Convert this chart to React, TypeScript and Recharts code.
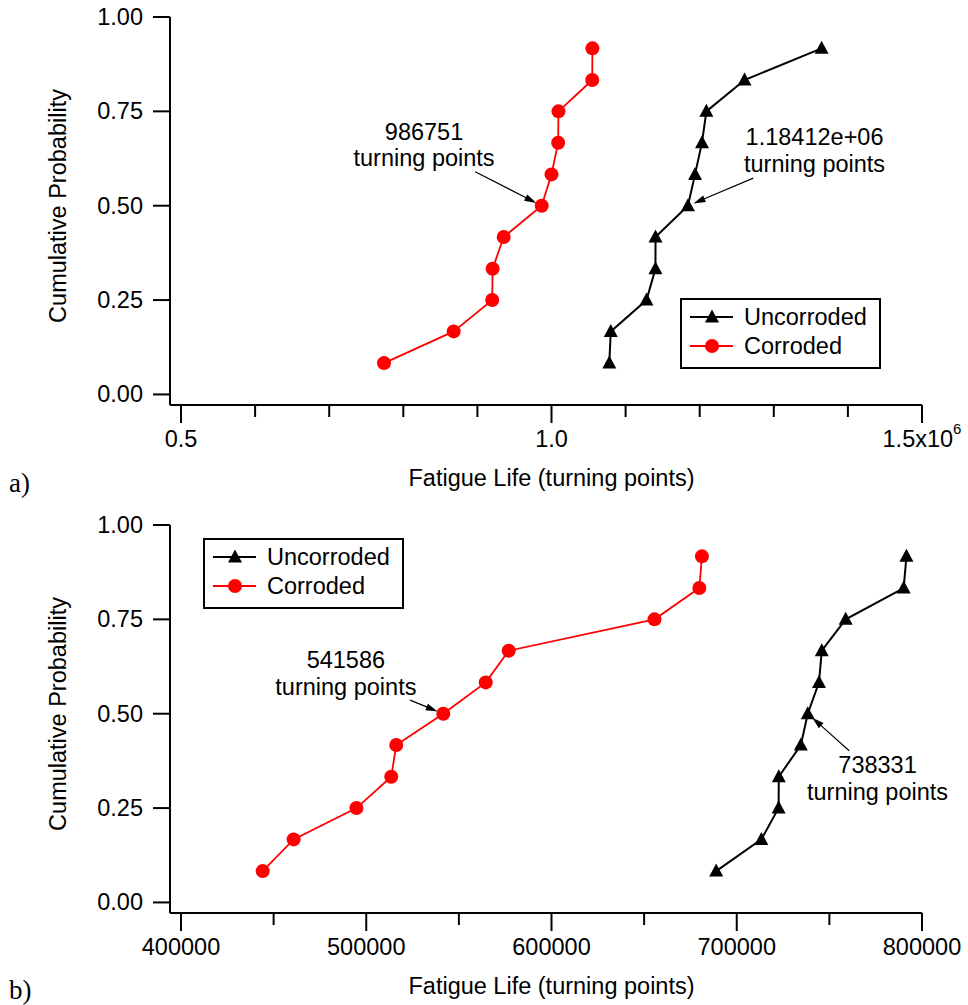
import React from "react";
import {
  LineChart,
  Line,
  XAxis,
  YAxis,
  Legend,
  Label,
  ReferenceLine,
  ReferenceDot,
} from "recharts";

// cumulative probability (median ranks) shared by every series
const probability = [0.083, 0.167, 0.25, 0.333, 0.417, 0.5, 0.583, 0.667, 0.75, 0.833, 0.917];

// panel a) fatigue life, turning points
const lifeUncorrodedA = [1078000, 1080000, 1128200, 1140300, 1140400, 1184120, 1193700, 1203100, 1209000, 1260500, 1364500];
const lifeCorrodedA = [774000, 868000, 920000, 920500, 935500, 986751, 1000000, 1009000, 1009400, 1055000, 1055200];

// panel b)
const lifeUncorrodedB = [688900, 713300, 722600, 722700, 734600, 738331, 744400, 745900, 758800, 790100, 791600];
const lifeCorrodedB = [444100, 460800, 494700, 513500, 516200, 541586, 564500, 576900, 655600, 679800, 681200];

const probTicks = [0, 0.25, 0.5, 0.75, 1];

const xTicksA = [500000, 600000, 700000, 800000, 900000, 1000000, 1100000, 1200000, 1300000, 1400000, 1500000];
const xTickLabelsA = ["0.5", "", "", "", "", "1.0", "", "", "", "", "1.5x10^6"];

const xTicksB = [400000, 450000, 500000, 550000, 600000, 650000, 700000, 750000, 800000];
const xTickLabelsB = ["400000", "", "500000", "", "600000", "", "700000", "", "800000"];

const seriesNames = ["Uncorroded", "Corroded"];

const FONT = "'Liberation Sans', Arial, Helvetica, sans-serif";
const FS = 23.5;
const RED = "#ff0000";
const BLACK = "#000000";

const toRows = (life: number[]) => life.map((v, i) => ({ life: v, p: probability[i] }));

// C-style %g with six significant digits
function formatG(v: number) {
  if (Math.abs(v) >= 1e6) {
    const [m, e] = v.toExponential(5).split("e");
    const sign = e[0];
    const digits = e.slice(1).padStart(2, "0");
    return `${m.replace(/\.?0+$/, "")}e${sign}${digits}`;
  }
  return String(v);
}

function TriangleMark({ cx, cy, fill }: { cx: number; cy: number; fill: string }) {
  return (
    <path
      d={`M${cx},${cy - 7.5} L${cx + 7},${cy + 5.5} L${cx - 7},${cy + 5.5} Z`}
      fill={fill}
    />
  );
}

const triangleDot = (props: any) => (
  <TriangleMark key={`t-${props.index}`} cx={props.cx} cy={props.cy} fill={BLACK} />
);
const circleDot = (props: any) => (
  <circle key={`c-${props.index}`} cx={props.cx} cy={props.cy} r={7} fill={RED} />
);

function makeXTick(ticks: number[], labels: string[]) {
  return (props: any) => {
    const { x, y, payload } = props;
    const label = labels[ticks.indexOf(payload.value)] || "";
    const major = label !== "";
    const [base, exp] = label.split("^");
    return (
      <g>
        <line x1={x} x2={x} y1={y} y2={y + (major ? 18 : 12)} stroke={BLACK} strokeWidth={2} />
        {major && (
          <text
            x={x}
            y={y + 34}
            textAnchor="middle"
            dominantBaseline="central"
            fontFamily={FONT}
            fontSize={FS}
            fill={BLACK}
          >
            {base}
            {exp && (
              <tspan dy={-11} fontSize={15}>
                {exp}
              </tspan>
            )}
          </text>
        )}
      </g>
    );
  };
}

function ProbTick(props: any) {
  const { x, y, payload } = props;
  return (
    <g>
      <line x1={x - 17} x2={x} y1={y} y2={y} stroke={BLACK} strokeWidth={2} />
      <text
        x={x - 27}
        y={y}
        textAnchor="end"
        dominantBaseline="central"
        fontFamily={FONT}
        fontSize={FS}
        fill={BLACK}
      >
        {Number(payload.value).toFixed(2)}
      </text>
    </g>
  );
}

function YTitle(props: any) {
  const { x, y } = props.viewBox;
  const cx = x + 58;
  const cy = y + 189;
  return (
    <text
      x={cx}
      y={cy}
      transform={`rotate(-90 ${cx} ${cy})`}
      textAnchor="middle"
      dominantBaseline="central"
      fontFamily={FONT}
      fontSize={FS}
      fill={BLACK}
    >
      Cumulative Probability
    </text>
  );
}

function XTitle(props: any) {
  const { x, y, width } = props.viewBox;
  return (
    <text
      x={x + width / 2 + 5.5}
      y={y + 73}
      textAnchor="middle"
      dominantBaseline="central"
      fontFamily={FONT}
      fontSize={FS}
      fill={BLACK}
    >
      Fatigue Life (turning points)
    </text>
  );
}

function Arrow(props: any) {
  const { x1, y1, x2, y2 } = props;
  const dx = x2 - x1;
  const dy = y2 - y1;
  const len = Math.hypot(dx, dy) || 1;
  const ux = dx / len;
  const uy = dy / len;
  // stop just short of the marker
  const tipX = x2 - ux * 6;
  const tipY = y2 - uy * 6;
  const head = 12;
  const half = 3.5;
  const bx = tipX - ux * head;
  const by = tipY - uy * head;
  return (
    <g>
      <line x1={x1} y1={y1} x2={bx + ux * 2} y2={by + uy * 2} stroke={BLACK} strokeWidth={1.2} />
      <polygon
        points={`${tipX},${tipY} ${bx - uy * half},${by + ux * half} ${bx + uy * half},${by - ux * half}`}
        fill={BLACK}
      />
    </g>
  );
}

const calloutText = (text: string) => (props: any) => {
  const { cx, cy } = props;
  return (
    <g>
      <text x={cx} y={cy - 13.3} textAnchor="middle" dominantBaseline="central" fontFamily={FONT} fontSize={FS} fill={BLACK}>
        {text}
      </text>
      <text x={cx} y={cy + 13.3} textAnchor="middle" dominantBaseline="central" fontFamily={FONT} fontSize={FS} fill={BLACK}>
        turning points
      </text>
    </g>
  );
};

function LegendBox(props: any) {
  // keep the series order instead of the alphabetical default
  const items = [...(props.payload || [])].sort(
    (a: any, b: any) => seriesNames.indexOf(a.value) - seriesNames.indexOf(b.value)
  );
  return (
    <div
      style={{
        width: 201,
        height: 71,
        border: "2px solid #000",
        boxSizing: "border-box",
        background: "#fff",
        position: "relative",
        fontFamily: FONT,
        fontSize: FS,
        color: BLACK,
      }}
    >
      {items.map((item: any, i: number) => {
        const color = item.color || item.payload?.stroke;
        const tri = item.value === seriesNames[0];
        return (
          <div
            key={item.value}
            style={{
              position: "absolute",
              left: 0,
              top: 2 + i * 29.4,
              height: 30,
              display: "flex",
              alignItems: "center",
              whiteSpace: "nowrap",
            }}
          >
            <svg width={62} height={30} style={{ display: "block" }}>
              <line x1={8} x2={51} y1={15} y2={15} stroke={color} strokeWidth={2} />
              {tri ? <TriangleMark cx={30} cy={15} fill={color} /> : <circle cx={30} cy={15} r={7} fill={color} />}
            </svg>
            <span style={{ lineHeight: "30px" }}>{item.value}</span>
          </div>
        );
      })}
    </div>
  );
}

interface Callout {
  life: number;
  textAt: [number, number];
  tailAt: [number, number];
}

interface PanelProps {
  height: number;
  xDomain: [number, number];
  xTicks: number[];
  xTickLabels: string[];
  uncorroded: number[];
  corroded: number[];
  legendAt: { left: number; top: number };
  callouts: Callout[];
}

function LifePanel({ height, xDomain, xTicks, xTickLabels, uncorroded, corroded, legendAt, callouts }: PanelProps) {
  const plotH = 388;
  const top = 17;
  return (
    <LineChart width={968} height={height} margin={{ top, right: 46, left: 0, bottom: 0 }}>
      <XAxis
        type="number"
        dataKey="life"
        domain={xDomain}
        allowDataOverflow
        ticks={xTicks}
        interval={0}
        height={height - top - plotH}
        axisLine={{ stroke: BLACK, strokeWidth: 2 }}
        tickLine={false}
        tickSize={0}
        tickMargin={0}
        tick={makeXTick(xTicks, xTickLabels)}
      >
        <Label content={XTitle} />
      </XAxis>
      <YAxis
        type="number"
        dataKey="p"
        domain={[-0.028, 1]}
        allowDataOverflow
        ticks={probTicks}
        interval={0}
        width={170}
        axisLine={{ stroke: BLACK, strokeWidth: 2 }}
        tickLine={false}
        tickSize={0}
        tickMargin={0}
        tick={ProbTick}
      >
        <Label content={YTitle} />
      </YAxis>
      <Legend
        layout="vertical"
        align="center"
        verticalAlign="middle"
        content={LegendBox}
        wrapperStyle={{ left: legendAt.left, top: legendAt.top, width: 201, height: 71 }}
      />
      <Line
        name={seriesNames[0]}
        data={toRows(uncorroded)}
        dataKey="p"
        stroke={BLACK}
        strokeWidth={2}
        dot={triangleDot}
        activeDot={false}
        isAnimationActive={false}
      />
      <Line
        name={seriesNames[1]}
        data={toRows(corroded)}
        dataKey="p"
        stroke={RED}
        strokeWidth={1.8}
        dot={circleDot}
        activeDot={false}
        isAnimationActive={false}
      />
      {callouts.map((c, i) => (
        <ReferenceLine
          key={`arrow-${i}`}
          segment={[
            { x: c.tailAt[0], y: c.tailAt[1] },
            { x: c.life, y: 0.5 },
          ]}
          shape={Arrow}
        />
      ))}
      {callouts.map((c, i) => (
        <ReferenceDot
          key={`text-${i}`}
          x={c.textAt[0]}
          y={c.textAt[1]}
          r={0}
          shape={calloutText(formatG(c.life))}
        />
      ))}
    </LineChart>
  );
}

const median = probability.indexOf(0.5);

export default function App() {
  return (
    <div style={{ position: "absolute", left: 0, top: 0, width: 968, height: 1005, background: "#fff" }}>
      <LifePanel
        height={508}
        xDomain={[485155, 1500000]}
        xTicks={xTicksA}
        xTickLabels={xTickLabelsA}
        uncorroded={lifeUncorrodedA}
        corroded={lifeCorrodedA}
        legendAt={{ left: 680, top: 298 }}
        callouts={[
          { life: lifeCorrodedA[median], textAt: [828000, 0.661], tailAt: [897000, 0.59] },
          { life: lifeUncorrodedA[median], textAt: [1355000, 0.647], tailAt: [1272300, 0.573] },
        ]}
      />
      <LifePanel
        height={497}
        xDomain={[394062, 800000]}
        xTicks={xTicksB}
        xTickLabels={xTickLabelsB}
        uncorroded={lifeUncorrodedB}
        corroded={lifeCorrodedB}
        legendAt={{ left: 203, top: 30 }}
        callouts={[
          { life: lifeCorrodedB[median], textAt: [489000, 0.607], tailAt: [523600, 0.536] },
          { life: lifeUncorrodedB[median], textAt: [776000, 0.329], tailAt: [760700, 0.402] },
        ]}
      />
      <div style={{ position: "absolute", left: 9, top: 470, font: "27px 'Liberation Serif', serif", lineHeight: "27px" }}>
        a)
      </div>
      <div style={{ position: "absolute", left: 9, top: 977, font: "27px 'Liberation Serif', serif", lineHeight: "27px" }}>
        b)
      </div>
    </div>
  );
}
